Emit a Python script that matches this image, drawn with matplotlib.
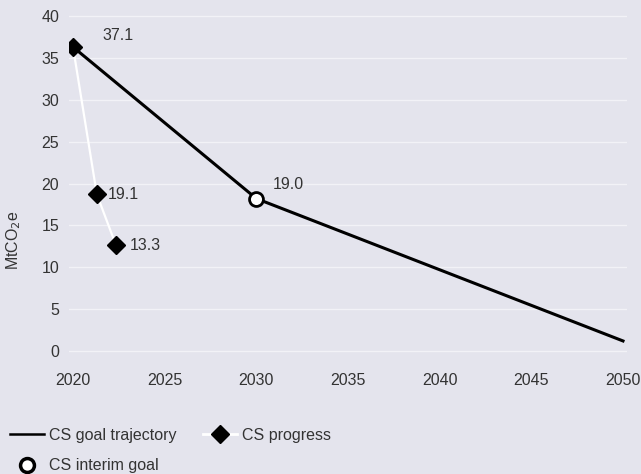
import matplotlib
matplotlib.use("Agg")
import matplotlib.pyplot as plt
from matplotlib.lines import Line2D

plt.rcParams['font.family'] = ['Liberation Sans', 'DejaVu Sans']

# Data
goal_years = [2020, 2030, 2050]
goal_values = [36.3, 18.2, 1.2]
interim_year = [2030]
interim_value = [18.2]
progress_years = [2020, 2021.3, 2022.35]
progress_values = [36.3, 18.7, 12.6]
progress_labels = ["37.1", "19.1", "13.3"]
interim_label = "19.0"
x_ticks = [2020, 2025, 2030, 2035, 2040, 2045, 2050]
y_ticks = [0, 5, 10, 15, 20, 25, 30, 35, 40]

BG = "#e4e4ed"
TXT = "#333333"
FS = 11.5

fig = plt.figure(figsize=(6.41, 4.74), dpi=100, facecolor=BG)
ax = fig.add_axes([69/641, 1 - 355/474, (627-69)/641, (355-10)/474])
ax.set_facecolor(BG)

ax.set_xlim(2020 - 4/18.33, 2050 + 4/18.33)
ax.set_ylim(-4/8.375, 40 + 6/8.375)
ax.set_xticks(x_ticks)
ax.set_yticks(y_ticks)
ax.grid(axis='y', color='#f2f2f7', linewidth=1.0)
ax.set_axisbelow(True)
for s in ax.spines.values():
    s.set_visible(False)
ax.tick_params(axis='both', length=0, labelsize=FS, colors=TXT)
ax.tick_params(axis='x', pad=13)
ax.tick_params(axis='y', pad=7)
ax.set_ylabel("MtCO$_2$e", fontsize=11.5, color=TXT)
ax.yaxis.set_label_coords(-46/558, (355-240)/345)

ax.plot(goal_years, goal_values, color='black', linewidth=2.2, zorder=3)
ax.plot(progress_years, progress_values, color='white', linewidth=1.6, zorder=4,
        marker='D', markersize=9, markerfacecolor='black', markeredgecolor='black')
ax.plot(interim_year, interim_value, linestyle='none', marker='o', markersize=10,
        markerfacecolor='white', markeredgecolor='black', markeredgewidth=2, zorder=5)

offsets = [(21, 8), (8, 0), (10, 0)]
for x, y, lab, off in zip(progress_years, progress_values, progress_labels, offsets):
    ax.annotate(lab, (x, y), xytext=off, textcoords='offset points',
                ha='left', va='center', fontsize=FS, color=TXT)
ax.annotate(interim_label, (interim_year[0], interim_value[0]), xytext=(12, 10),
            textcoords='offset points', ha='left', va='center', fontsize=FS, color=TXT)

handles = [
    Line2D([], [], color='black', linewidth=1.8),
    Line2D([], [], linestyle='none', marker='o', markersize=10, markerfacecolor='white',
           markeredgecolor='black', markeredgewidth=2.5),
    Line2D([], [], color='white', linewidth=2, marker='D', markersize=9,
           markerfacecolor='black', markeredgecolor='black'),
]
labels = ["CS goal trajectory", "CS interim goal", "CS progress"]
leg = fig.legend(handles, labels, loc='upper left', bbox_to_anchor=(10/641, 46/474),
                 ncol=2, frameon=False, fontsize=FS, handlelength=2.1,
                 handletextpad=0.35, columnspacing=1.65, labelspacing=0.95,
                 borderpad=0, borderaxespad=0)
for t in leg.get_texts():
    t.set_color(TXT)

fig.savefig("out.png", dpi=100, facecolor=BG)
